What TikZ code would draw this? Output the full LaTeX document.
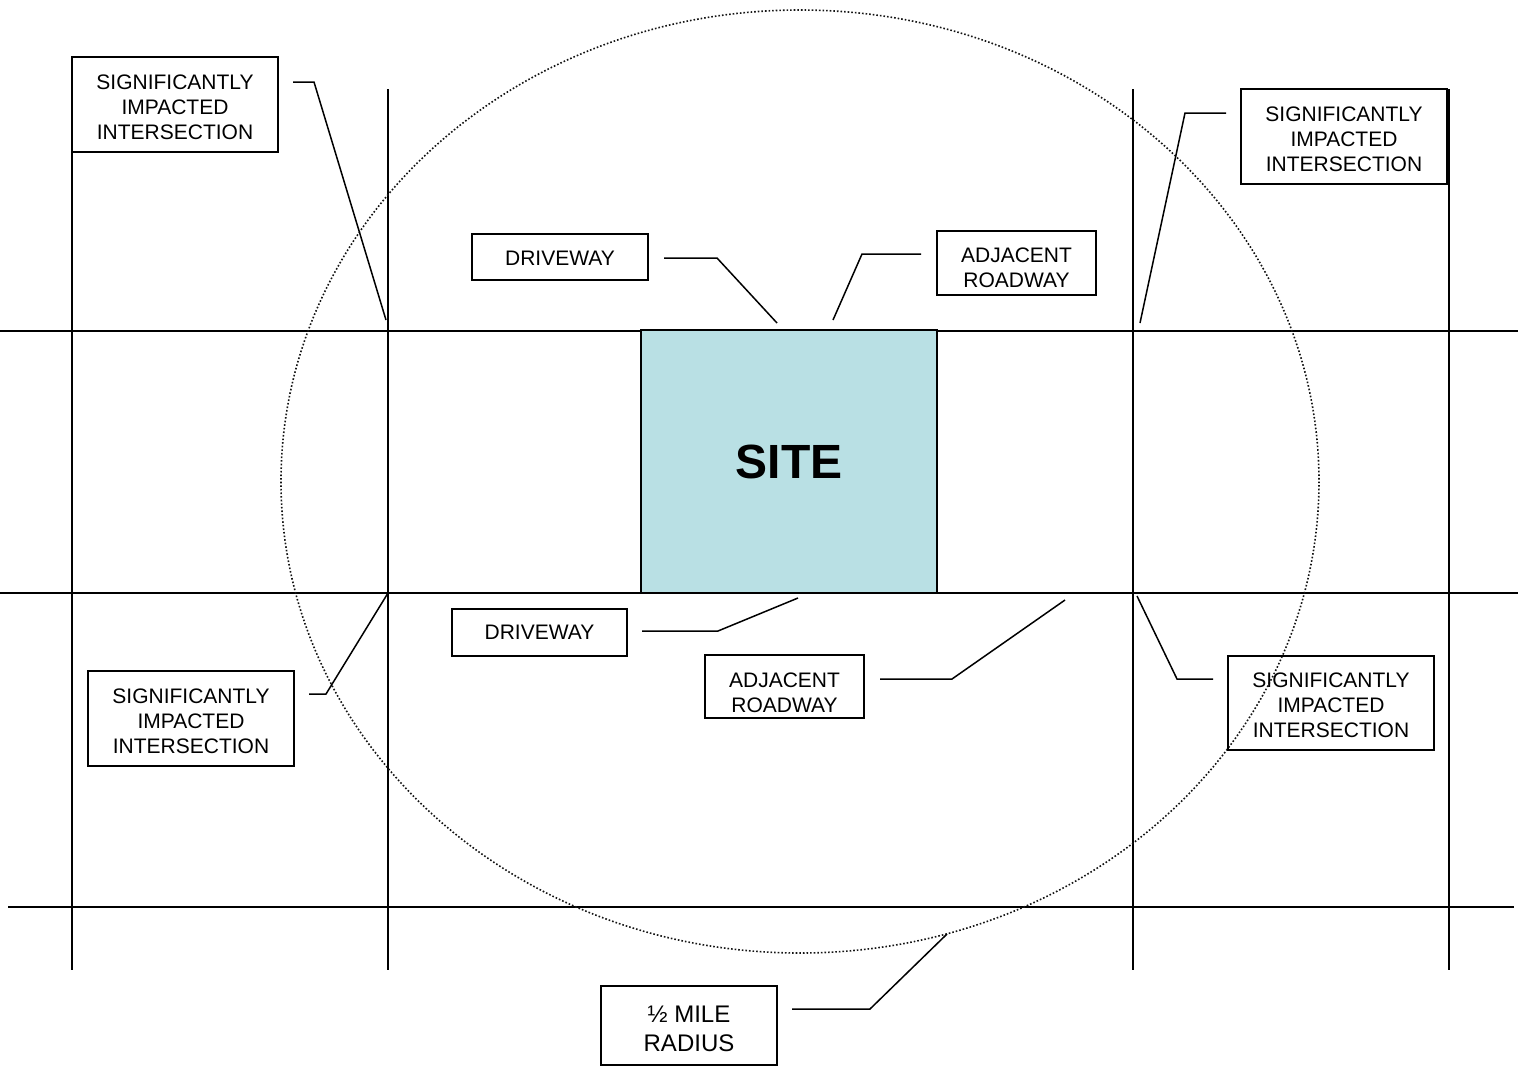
\documentclass[tikz,border=0pt]{standalone}
\usepackage{fontspec}
\setmainfont{Liberation Sans}
\definecolor{sitefill}{RGB}{185,224,228}
\definecolor{radiusgray}{RGB}{20,20,20}
\begin{document}
\begin{tikzpicture}[x=1pt,y=-1pt,
  road/.style={line width=2pt,black},
  leader/.style={line width=1.5pt,black},
  frame/.style={draw,line width=1.5pt,fill=none,inner sep=0pt},
  caption/.style={inner sep=0pt,align=center,font=\fontsize{21}{25}\selectfont},
  radius/.style={radiusgray,line width=1.6pt,dash pattern=on 1.6pt off 2pt}]
\useasboundingbox (0,0) rectangle (1518,1066);

% street grid
\draw[road] (0,331) -- (1518,331);
\draw[road] (0,593) -- (1518,593);
\draw[road] (8,907) -- (1514,907);
\foreach \x in {72,388,1133,1449}
  \draw[road] (\x,89) -- (\x,970);

% site parcel
\node[draw,line width=1.5pt,fill=sitefill,minimum width=296pt,minimum height=263pt,
  inner sep=0pt,font=\fontsize{48}{50}\selectfont\bfseries] (site) at (789,461.5) {SITE};

% half-mile study radius
\draw[radius] (800,481.5) ellipse [x radius=519, y radius=471.5];

% label frames
\node[frame,minimum width=206pt,minimum height=95pt] (sigTL) at (175,104.5) {};
\node[frame,minimum width=206pt,minimum height=95pt] (sigTR) at (1344,136.5) {};
\node[frame,minimum width=206pt,minimum height=95pt] (sigBL) at (191,718.5) {};
\node[frame,minimum width=206pt,minimum height=94pt] (sigBR) at (1331,703) {};
\node[frame,minimum width=176pt,minimum height=46pt] (drvT) at (560,257) {};
\node[frame,minimum width=159pt,minimum height=64pt] (adjT) at (1016.5,263) {};
\node[frame,minimum width=175pt,minimum height=47pt] (drvB) at (539.5,632.5) {};
\node[frame,minimum width=159pt,minimum height=63pt] (adjB) at (784.5,686.5) {};
\node[frame,minimum width=176pt,minimum height=79pt] (half) at (689,1025.5) {};

% label texts
\node[caption] (sigTLt) at ([yshift=-3pt]sigTL.center) {SIGNIFICANTLY\\IMPACTED\\INTERSECTION};
\node[caption] (sigTRt) at ([yshift=-3pt]sigTR.center) {SIGNIFICANTLY\\IMPACTED\\INTERSECTION};
\node[caption] (sigBLt) at ([yshift=-3pt]sigBL.center) {SIGNIFICANTLY\\IMPACTED\\INTERSECTION};
\node[caption] (sigBRt) at ([yshift=-2pt]sigBR.center) {SIGNIFICANTLY\\IMPACTED\\INTERSECTION};
\node[caption] (drvTt) at ([yshift=-1pt]drvT.center) {DRIVEWAY};
\node[caption] (adjTt) at ([yshift=-5pt]adjT.center) {ADJACENT\\ROADWAY};
\node[caption] (drvBt) at (drvB.center) {DRIVEWAY};
\node[caption] (adjBt) at ([yshift=-6pt]adjB.center) {ADJACENT\\ROADWAY};
\node[caption,font=\fontsize{24}{29}\selectfont] (halft) at ([yshift=-3pt]half.center)
  {½ MILE\\RADIUS};

% leader end points
\coordinate (sigTLa) at (293,82);   \coordinate (sigTLb) at (314,82);   \coordinate (sigTLc) at (386,320);
\coordinate (sigTRa) at (1226,113); \coordinate (sigTRb) at (1185,113); \coordinate (sigTRc) at (1140,323);
\coordinate (sigBLa) at (309,694);  \coordinate (sigBLb) at (326,694);  \coordinate (sigBLc) at (388,593);
\coordinate (sigBRa) at (1213,679); \coordinate (sigBRb) at (1177,679); \coordinate (sigBRc) at (1137,596);
\coordinate (drvTa) at (664,258);   \coordinate (drvTb) at (717,258);   \coordinate (drvTc) at (777,323);
\coordinate (adjTa) at (921,254);   \coordinate (adjTb) at (862,254);   \coordinate (adjTc) at (833,320);
\coordinate (drvBa) at (642,631);   \coordinate (drvBb) at (718,631);   \coordinate (drvBc) at (798,598);
\coordinate (adjBa) at (880,679);   \coordinate (adjBb) at (952,679);   \coordinate (adjBc) at (1065,600);
\coordinate (halfa) at (792,1009);  \coordinate (halfb) at (870,1009);  \coordinate (halfc) at (947,934);

% leaders
\foreach \n in {sigTL,sigTR,sigBL,sigBR,drvT,adjT,drvB,adjB,half}
  \draw[leader] (\n a) -- (\n b) -- (\n c);
\end{tikzpicture}
\end{document}
